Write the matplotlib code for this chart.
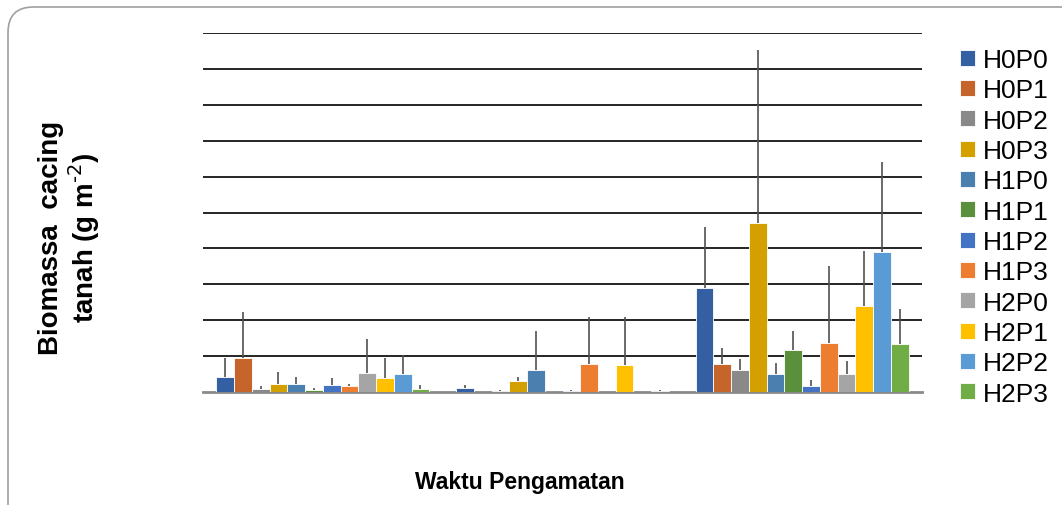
import matplotlib
matplotlib.use('Agg')
import matplotlib.pyplot as plt
from matplotlib.patches import FancyBboxPatch
import numpy as np

plt.rcParams['font.family'] = ['Liberation Sans', 'DejaVu Sans']

# perlakuan (seri) dan nilai per waktu pengamatan
treatments = ['H0P0', 'H0P1', 'H0P2', 'H0P3', 'H1P0', 'H1P1',
              'H1P2', 'H1P3', 'H2P0', 'H2P1', 'H2P2', 'H2P3']
times = ['', '', '']

mean_t1 = [0.40, 0.93, 0.07, 0.21, 0.21, 0.04, 0.19, 0.16, 0.53, 0.39, 0.50, 0.08]
mean_t2 = [0.09, 0.00, 0.03, 0.31, 0.61, 0.00, 0.02, 0.77, 0.00, 0.75, 0.00, 0.02]
mean_t3 = [2.90, 0.77, 0.60, 4.70, 0.49, 1.17, 0.16, 1.37, 0.49, 2.39, 3.90, 1.32]

sd_t1 = [0.53, 1.29, 0.10, 0.34, 0.19, 0.06, 0.18, 0.05, 0.93, 0.54, 0.52, 0.10]
sd_t2 = [0.10, 0.00, 0.03, 0.09, 1.08, 0.00, 0.04, 1.31, 0.00, 1.33, 0.00, 0.04]
sd_t3 = [1.70, 0.44, 0.31, 4.84, 0.31, 0.53, 0.17, 2.14, 0.36, 1.54, 2.51, 0.98]

colors = ['#355FA3', '#C5652B', '#898989', '#D4A000', '#4A7FB0', '#5A8F3C',
          '#4472C4', '#ED7D31', '#A5A5A5', '#FFC000', '#5B9BD5', '#70AD47']

means = np.array([mean_t1, mean_t2, mean_t3])
sds = np.array([sd_t1, sd_t2, sd_t3])

fig = plt.figure(figsize=(10.62, 5.06), dpi=100)
ax = fig.add_axes([203 / 1062, 1 - 392.7 / 506, 719 / 1062, (392.7 - 34.3) / 506])

# bingkai bulat di sekeliling grafik
frame = FancyBboxPatch((8 / 1062, -0.1), 1.2, 1 - 8 / 506 + 0.1,
                       boxstyle='round,pad=0,rounding_size=0.024',
                       transform=fig.transFigure, facecolor='none',
                       edgecolor='#a0a0a0', linewidth=1.2, zorder=-1,
                       mutation_aspect=1062 / 506)
fig.patches.append(frame)

x = np.arange(len(times))
w = 0.074
for j, name in enumerate(treatments):
    pos = x + (j - 5.5) * w
    h = means[:, j]
    ax.bar(pos, h, width=w, color=colors[j],
           edgecolor=['white' if v > 0 else 'none' for v in h],
           linewidth=0.6, label=name, zorder=3)
    keep = sds[:, j] > 0
    ax.errorbar(pos[keep], h[keep], yerr=[np.zeros(keep.sum()), sds[keep, j]],
                fmt='none', ecolor='#505050', elinewidth=1.2, capsize=0, zorder=4)

ax.set_xlim(-0.5, 2.5)
ax.set_ylim(0, 10)
ax.set_yticks(np.arange(1, 11))
ax.yaxis.grid(True, color='black', linewidth=1.2)
ax.set_axisbelow(True)
ax.tick_params(left=False, bottom=False, labelleft=False, labelbottom=False)
for s in ['top', 'right', 'left']:
    ax.spines[s].set_visible(False)
ax.spines['bottom'].set_color('#8a8a8a')
ax.spines['bottom'].set_linewidth(2)
ax.set_xticks(x)

fig.text(70 / 1062, 1 - 238 / 506, 'Biomassa  cacing\ntanah (g m$^{\\text{-2}}$)',
         rotation=90, ha='center', va='center', fontsize=20, fontweight='bold',
         linespacing=1.1)
fig.text(520 / 1062, 1 - 482 / 506, 'Waktu Pengamatan', ha='center', va='center',
         fontsize=16.5, fontweight='bold')

ax.legend(loc='upper left', bbox_to_anchor=(960 / 1062, 1 - 49 / 506),
          bbox_transform=fig.transFigure, frameon=False, fontsize=19,
          handlelength=0.55, handleheight=0.55, handletextpad=0.3,
          labelspacing=0.24, borderaxespad=0, borderpad=0)

fig.savefig('out.png', dpi=100)
